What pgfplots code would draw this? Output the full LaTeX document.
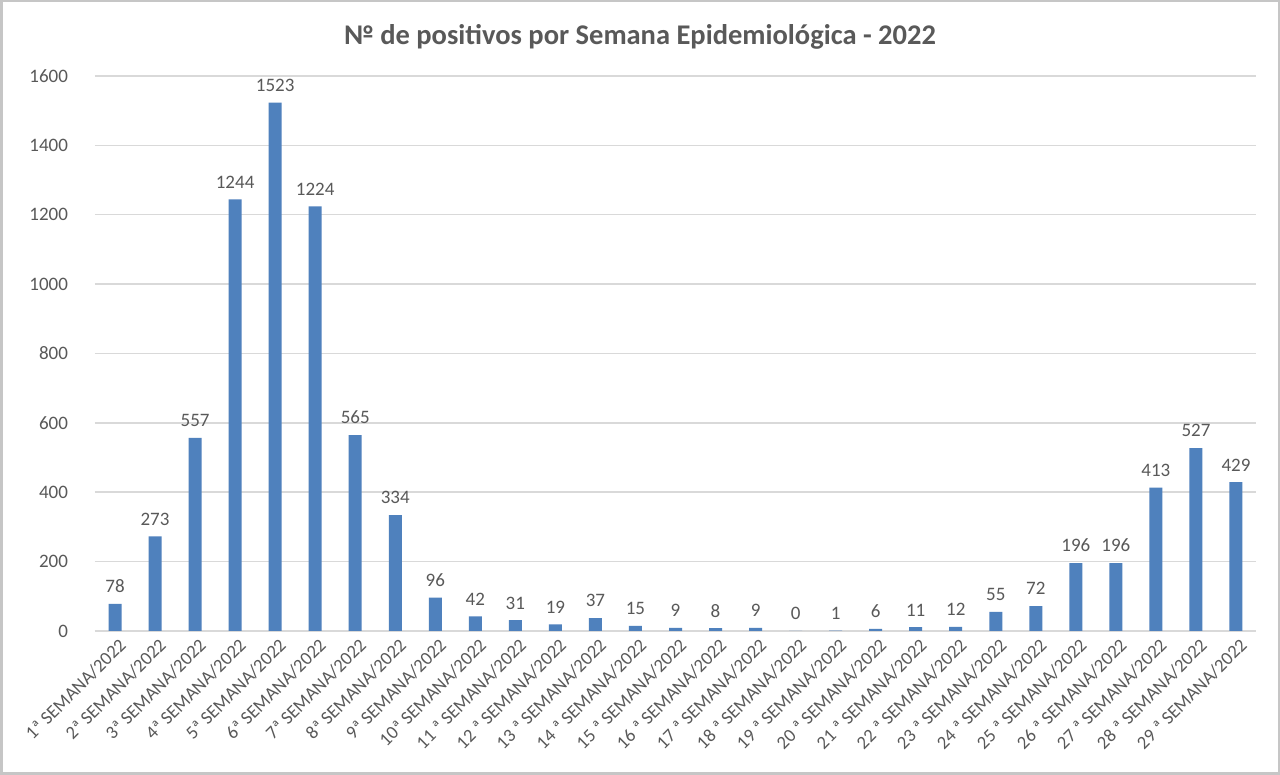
\documentclass[border=0pt]{standalone}
\usepackage{pgfplots}
\pgfplotsset{compat=1.18}
\usepackage{fontspec}
\setmainfont{Carlito}
\definecolor{barblue}{HTML}{4F81BD}
\definecolor{txtgray}{HTML}{595959}
\definecolor{gridgray}{HTML}{D9D9D9}
\begin{document}
\begin{tikzpicture}[x=0.5pt,y=0.5pt]
\useasboundingbox (0,0) rectangle (1280,775);
\fill[white] (0,0) rectangle (1280,775);
\draw[gray!45,line width=1.5pt] (1,1) rectangle (1279,774);
\node[font=\bfseries\fontsize{14.25}{17}\selectfont,text=txtgray] at (640,738) {№ de positivos por Semana Epidemiológica - 2022};
\begin{axis}[
  at={(47.5pt,72pt)}, anchor=south west,
  scale only axis, width=580.5pt, height=277.5pt,
  xmin=0.5, xmax=29.5, ymin=0, ymax=1600,
  ytick={0,200,...,1600},
  xtick={1,...,29},
  xticklabels={1ª SEMANA/2022,2ª SEMANA/2022,3ª SEMANA/2022,4ª SEMANA/2022,5ª SEMANA/2022,6ª SEMANA/2022,7ª SEMANA/2022,8ª SEMANA/2022,9ª SEMANA/2022,10ª SEMANA/2022,11 ª SEMANA/2022,12 ª SEMANA/2022,13 ª SEMANA/2022,14 ª SEMANA/2022,15 ª SEMANA/2022,16 ª SEMANA/2022,17 ª SEMANA/2022,18 ª SEMANA/2022,19 ª SEMANA/2022,20 ª SEMANA/2022,21 ª SEMANA/2022,22 ª SEMANA/2022,23 ª SEMANA/2022,24 ª SEMANA/2022,25 ª SEMANA/2022,26 ª SEMANA/2022,27 ª SEMANA/2022,28 ª SEMANA/2022,29 ª SEMANA/2022},
  xticklabel style={rotate=45, anchor=north east, inner sep=1pt, font=\fontsize{9.3}{11}\selectfont, text=txtgray, yshift=-2pt},
  yticklabel style={font=\fontsize{9.5}{11}\selectfont, text=txtgray, xshift=-10pt},
  /pgf/number format/assume math mode=true,
  /pgf/number format/1000 sep={},
  ymajorgrids, grid style={gridgray, line width=0.75pt},
  axis x line*=bottom, axis y line*=left,
  x axis line style={gridgray, line width=0.75pt},
  y axis line style={draw=none},
  major tick length=0pt,
  ybar, bar width=6.5pt,
  nodes near coords,
  every node near coord/.append style={font=\fontsize{9.5}{11}\selectfont, text=txtgray, yshift=2pt},
  clip=false,
]
\addplot[fill=barblue, draw=none] coordinates {
(1,78) (2,273) (3,557) (4,1244) (5,1523) (6,1224) (7,565) (8,334) (9,96) (10,42)
(11,31) (12,19) (13,37) (14,15) (15,9) (16,8) (17,9) (18,0) (19,1) (20,6)
(21,11) (22,12) (23,55) (24,72) (25,196) (26,196) (27,413) (28,527) (29,429)
};
\end{axis}
\end{tikzpicture}
\end{document}
